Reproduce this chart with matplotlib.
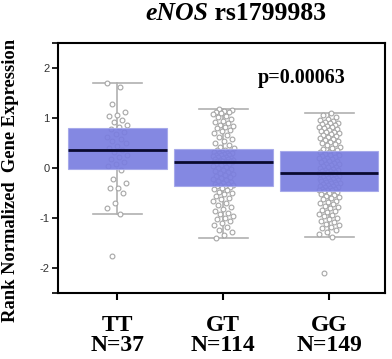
import numpy as np
import matplotlib
matplotlib.use("Agg")
import matplotlib.pyplot as plt

categories = ["TT", "GT", "GG"]
counts = [37, 114, 149]
p_text = "p=0.00063"

# box statistics
medians = [0.36, 0.12, -0.10]
q1s = [-0.02, -0.36, -0.46]
q3s = [0.80, 0.38, 0.34]
whis_lo = [-0.93, -1.40, -1.38]
whis_hi = [1.70, 1.18, 1.10]

# individual points (estimated)
tt_values = [1.70, 1.63, 1.29, 1.13, 1.07, 1.05, 0.96, 0.93, 0.87, 0.83,
             0.78, 0.72, 0.68, 0.63, 0.58, 0.55, 0.50, 0.45, 0.40, 0.36,
             0.32, 0.27, 0.22, 0.18, 0.13, 0.09, 0.05, -0.03,
             -0.21, -0.29, -0.39, -0.39, -0.51, -0.71, -0.81, -0.93, -1.77]
gt_values = [1.18, 1.16, 1.15, 1.13, 1.12, 1.10, 1.08, 1.05, 1.02, 0.98,
             0.95, 0.92, 0.90, 0.87, 0.85, 0.82, 0.80, 0.77, 0.74, 0.70,
             0.66, 0.62, 0.58, 0.55, 0.51, 0.47, 0.43, 0.40,
             0.37, 0.36, 0.35, 0.33, 0.33, 0.31, 0.30, 0.30, 0.28, 0.27,
             0.26, 0.26, 0.24, 0.23, 0.22, 0.21, 0.21, 0.19, 0.18, 0.17,
             0.16, 0.15, 0.15, 0.14, 0.14, 0.13, 0.13, 0.12, 0.12,
             0.11, 0.09, 0.08, 0.06, 0.04, 0.02, 0.00, -0.02, -0.04, -0.06,
             -0.08, -0.10, -0.12, -0.14, -0.16, -0.18, -0.20, -0.22, -0.24,
             -0.26, -0.28, -0.29, -0.31, -0.32, -0.33, -0.34, -0.35, -0.36,
             -0.38, -0.40, -0.42, -0.45, -0.48, -0.50, -0.53, -0.57, -0.60,
             -0.63, -0.67, -0.70, -0.74, -0.78, -0.82, -0.86, -0.90, -0.93,
             -0.96, -1.00, -1.03, -1.06, -1.10, -1.14, -1.19, -1.24, -1.29,
             -1.35, -1.40]
gg_values = [1.10, 1.07, 1.02, 0.99, 0.97, 0.95, 0.93, 0.91, 0.90, 0.88,
             0.86, 0.85, 0.83, 0.82, 0.80, 0.78, 0.77, 0.75, 0.73, 0.72,
             0.70, 0.68, 0.66, 0.64, 0.62, 0.60, 0.58, 0.56, 0.54, 0.52,
             0.50, 0.48, 0.46, 0.43, 0.41, 0.38, 0.36,
             0.33, 0.32, 0.30, 0.29, 0.27, 0.26, 0.24, 0.23, 0.21, 0.20,
             0.18, 0.17, 0.15, 0.14, 0.12, 0.11, 0.09, 0.08, 0.06, 0.05,
             0.03, 0.02, 0.00, -0.01, -0.03, -0.04, -0.05, -0.06, -0.07,
             -0.08, -0.09, -0.09, -0.10,
             -0.11, -0.12, -0.13, -0.14, -0.15, -0.16, -0.17, -0.18, -0.19,
             -0.20, -0.21, -0.22, -0.23, -0.24, -0.25, -0.26, -0.27, -0.28,
             -0.29, -0.30, -0.31, -0.32, -0.33, -0.35, -0.36, -0.37, -0.38,
             -0.40, -0.41, -0.42, -0.43, -0.44, -0.45, -0.46,
             -0.48, -0.50, -0.52, -0.54, -0.56, -0.58, -0.61, -0.63, -0.66,
             -0.68, -0.71, -0.73, -0.76, -0.79, -0.81, -0.84, -0.87, -0.89,
             -0.92, -0.95, -0.97, -1.00, -1.03, -1.06, -1.09, -1.12, -1.15,
             -1.18, -1.21, -1.25, -1.29, -1.33, -1.38, -2.10]
point_groups = [tt_values, gt_values, gg_values]

serif = "Liberation Serif"
fig = plt.figure(figsize=(3.92, 3.59), dpi=100)
ax = fig.add_axes([0.148, 0.184, 0.835, 0.696])

positions = np.arange(len(categories))
box_color = "#7a7ee0"
point_color = "#a6a6a6"

# jittered points (deterministic offsets)
for pos, vals in zip(positions, point_groups):
    idx = np.arange(len(vals))
    offs = 0.2 * (((idx * 0.618034 + 0.3 * pos) % 1.0) - 0.5)
    ax.scatter(pos + offs, vals, s=12, facecolors="white", edgecolors=point_color,
               linewidths=0.8, zorder=1)

stats = []
for i in range(len(categories)):
    stats.append(dict(med=medians[i], q1=q1s[i], q3=q3s[i],
                      whislo=whis_lo[i], whishi=whis_hi[i], fliers=[]))
res = ax.bxp(stats, positions=positions, widths=0.93, patch_artist=True,
             showfliers=False, capwidths=0.46,
             boxprops=dict(facecolor=box_color, edgecolor="#a4a7ea", alpha=0.92, linewidth=0.8),
             medianprops=dict(color="#0a0a30", linewidth=2.0),
             whiskerprops=dict(color="#b0b0b0", linewidth=1.2),
             capprops=dict(color="#b0b0b0", linewidth=1.2))
for b in res["boxes"]:
    b.set_zorder(2)
for l in res["whiskers"] + res["caps"]:
    l.set_zorder(0.5)
for l in res["medians"]:
    l.set_zorder(3)

ax.set_xlim(-0.56, 2.53)
ax.set_ylim(-2.5, 2.5)
ax.set_yticks([-2.5, -2, -1, 0, 1, 2, 2.5])
ax.set_yticklabels(["", "-2", "-1", "0", "1", "2", ""], fontfamily="Liberation Sans",
                   fontsize=8, color="#333333")
ax.set_xticks(positions)
ax.set_xticklabels([f"{c}\nN={n}" for c, n in zip(categories, counts)],
                   fontfamily=serif, fontweight="bold", fontsize=17, linespacing=0.95)
ax.tick_params(axis="x", length=5, width=1.5, pad=11)
ax.tick_params(axis="y", length=4, width=1.2, pad=2)
for s in ax.spines.values():
    s.set_linewidth(1.5)
    s.set_color("black")

ax.text(0.878, 0.86, p_text, transform=ax.transAxes, ha="right", va="center",
        fontfamily=serif, fontweight="bold", fontsize=14.5)

ax.set_ylabel("Rank Normalized  Gene Expression", fontfamily=serif, fontweight="bold",
              fontsize=13.3)
ax.yaxis.set_label_coords(-0.118, 0.45)

# title: italic gene name + bold rest
renderer = fig.canvas.get_renderer()
t1 = fig.text(145 / 392, 1 - 13 / 359, "eNOS", fontfamily=serif, fontweight="bold",
              fontstyle="italic", fontsize=18.5, ha="left", va="center")
bb = t1.get_window_extent(renderer)
fig.text(bb.x1 / fig.bbox.width, 1 - 13 / 359, " rs1799983", fontfamily=serif,
         fontweight="bold", fontsize=18.5, ha="left", va="center")

fig.savefig("out.png", dpi=100)
